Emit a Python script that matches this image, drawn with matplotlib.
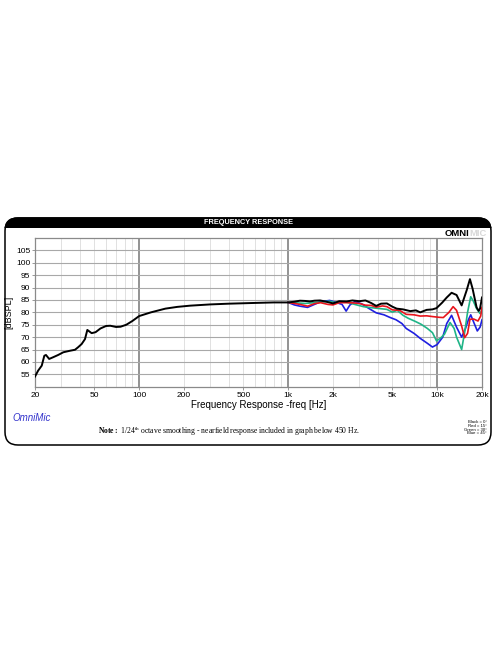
import matplotlib
matplotlib.use("Agg")
import matplotlib.pyplot as plt
from matplotlib.patches import FancyBboxPatch, Rectangle
from matplotlib.ticker import FixedLocator, NullFormatter

plt.rcParams['font.family'] = ['Liberation Sans', 'DejaVu Sans']
plt.rcParams['mathtext.fontset'] = 'custom'
plt.rcParams['mathtext.rm'] = 'Liberation Serif'
plt.rcParams['mathtext.bf'] = 'Liberation Serif:bold'

# Black = 0 deg (includes nearfield below 450 Hz)
black_f = [20, 21.0, 22.2, 23.1, 23.7, 24.9, 26.5, 28.6, 31.0, 34.3, 37.1, 38.9, 41.1, 43.3, 44.9,
           48, 51, 55, 60, 64, 70, 75, 82, 90, 100, 120, 150, 180, 220, 300, 400, 600, 800,
           1000, 1100, 1200, 1300, 1400, 1500, 1640, 1800, 2000, 2200, 2470, 2700, 3000, 3300,
           3600, 3900, 4200, 4600, 5000, 5350, 5900, 6600, 7200, 7700, 8500, 9300, 9900, 10800,
           11600, 12500, 13500, 14600, 15800, 16600, 17300, 18400, 19000, 19400, 20000]
black_db = [54.1, 56.5, 58.5, 62.5, 62.8, 61.2, 61.9, 62.8, 63.9, 64.5, 64.9, 65.9, 67.2, 69.2, 72.9,
            71.6, 72.0, 73.5, 74.5, 74.6, 74.1, 74.2, 75.0, 76.5, 78.5, 80.0, 81.5, 82.2, 82.7, 83.2,
            83.5, 83.8, 84.0,
            84.0, 84.3, 84.7, 84.6, 84.4, 84.7, 84.8, 84.3, 83.6, 84.5, 84.4, 84.8, 84.5, 84.8,
            83.8, 82.6, 83.5, 83.6, 82.3, 81.5, 81.2, 80.5, 80.8, 80.0, 81.0, 81.2, 81.7, 83.9,
            86.0, 87.9, 87.0, 82.8, 89.0, 93.4, 89.5, 82.0, 80.6, 81.5, 86.0]

# Red = 15 deg
red_f = [1000, 1100, 1200, 1350, 1500, 1650, 1850, 2000, 2200, 2600, 3000, 3300, 3600, 3900,
         4300, 4600, 5000, 5600, 6200, 7000, 7700, 8500, 9300, 10300, 11000, 12000, 12800, 13500,
         14600, 15300, 16000, 16600, 17600, 18800, 19600, 20000]
red_db = [84.0, 83.6, 83.2, 82.5, 83.5, 83.9, 83.2, 83.0, 83.9, 83.9, 83.6, 82.9, 82.8, 82.1,
          82.6, 82.3, 81.0, 80.8, 79.2, 79.0, 78.5, 78.6, 78.3, 78.0, 77.9, 80.0, 82.3, 80.8,
          74.5, 69.8, 71.5, 77.2, 77.3, 76.5, 78.5, 82.0]

# Green = 30 deg
green_f = [1000, 1150, 1300, 1500, 1700, 1900, 2100, 2400, 2800, 3200, 3600, 4000, 4600, 5000,
           5400, 5900, 6400, 7100, 7800, 8600, 9300, 9900, 10500, 11200, 12200, 13000, 13500,
           14600, 15300, 16000, 16800, 17500, 18400, 19400, 20000]
green_db = [84.0, 83.8, 83.6, 83.9, 84.2, 84.5, 83.8, 84.3, 83.2, 82.3, 81.9, 81.6, 81.2, 80.1,
            80.8, 78.8, 77.6, 76.4, 75.2, 73.5, 71.8, 68.5, 69.5, 71.2, 75.9, 73.5, 70.0,
            65.0, 72.0, 80.0, 86.3, 84.5, 81.5, 79.5, 81.0]

# Blue = 45 deg
blue_f = [1000, 1100, 1200, 1350, 1500, 1650, 1900, 2100, 2300, 2450, 2600, 2800, 3100, 3500,
          3900, 4400, 4800, 5300, 5800, 6200, 7000, 7700, 8600, 9300, 10000, 10900, 11600, 12500,
          13500, 14600, 15500, 16200, 16800, 17600, 18600, 19400, 20000]
blue_db = [84.0, 83.0, 82.5, 82.0, 83.2, 84.3, 84.8, 84.0, 83.2, 80.5, 83.0, 84.3, 83.5, 81.5,
           79.8, 79.0, 78.0, 77.0, 75.5, 73.5, 71.5, 69.5, 67.5, 66.0, 67.0, 70.0, 75.5, 78.8,
           74.0, 70.0, 73.5, 77.0, 79.0, 76.0, 72.5, 74.0, 77.0]

x_ticks = [20, 50, 100, 200, 500, 1000, 2000, 5000, 10000, 20000]
x_labels = ['20', '50', '100', '200', '500', '1k', '2k', '5k', '10k', '20k']
y_ticks = [55, 60, 65, 70, 75, 80, 85, 90, 95, 100, 105]

fig = plt.figure(figsize=(4.96, 6.64), dpi=100)
inch = fig.dpi_scale_trans

# outer frame and black title bar (behind the axes)
frame = FancyBboxPatch((0.05, 2.19), 4.86, 2.27, boxstyle="round,pad=0,rounding_size=0.13",
                       transform=inch, facecolor='white', edgecolor='black', lw=1.1, zorder=-10)
fig.patches.append(frame)
bar = FancyBboxPatch((0.05, 2.19), 4.86, 2.27, boxstyle="round,pad=0,rounding_size=0.13",
                     transform=inch, facecolor='black', edgecolor='black', lw=1.1, zorder=-9)
bar.set_clip_path(Rectangle((0.0, 4.365), 4.96, 0.2, transform=inch))
fig.patches.append(bar)
fig.text(2.48, 4.41, 'FREQUENCY RESPONSE', transform=inch, color='white', fontsize=5.3,
         fontweight='bold', ha='center', va='center')
fig.text(4.69, 4.31, 'OMNI', transform=inch, color='black', fontsize=6.8, fontweight='bold',
         ha='right', va='center')
fig.text(4.69, 4.31, 'MIC', transform=inch, color='#d8d8d8', fontsize=6.8, fontweight='bold',
         ha='left', va='center')

ax = fig.add_axes([35 / 496, 277.3 / 664, 447 / 496, 148.7 / 664])
ax.set_xscale('log')
ax.set_xlim(20, 20000)
ax.set_ylim(50, 110)

minor = [m * d for d in (10, 100, 1000) for m in range(2, 10)]
for f in minor:
    if 20 < f < 20000:
        ax.axvline(f, color='#dcdcdc', lw=0.6, zorder=0)
for f in (100, 1000, 10000):
    ax.axvline(f, color='#8a8a8a', lw=1.3, zorder=1)
for y in y_ticks:
    ax.axhline(y, color='#a8a8a8', lw=0.8, zorder=1)

ax.plot(blue_f, blue_db, color='#1f1fe0', lw=1.2, zorder=3)
ax.plot(green_f, green_db, color='#1fb487', lw=1.2, zorder=4)
ax.plot(red_f, red_db, color='#e8141c', lw=1.2, zorder=5)
ax.plot(black_f, black_db, color='black', lw=1.4, zorder=6)

ax.xaxis.set_major_locator(FixedLocator(x_ticks))
ax.xaxis.set_minor_formatter(NullFormatter())
ax.xaxis.set_minor_locator(FixedLocator([]))
ax.set_xticklabels(x_labels)
ax.set_yticks(y_ticks)
ax.tick_params(axis='both', labelsize=6, length=2, width=0.6, color='#888888', pad=1.5)
for s in ax.spines.values():
    s.set_color('#8a8a8a')
    s.set_linewidth(0.9)
ax.set_ylabel('[dBSPL]', fontsize=6.5, labelpad=2)
ax.set_xlabel('Frequency Response -freq [Hz]', fontsize=7, labelpad=1)

fig.text(0.12, 2.46, 'OmniMic', transform=inch, color='#3333cc', fontsize=7, style='italic',
         ha='left', va='center')
fig.text(2.29, 2.33, r'$\mathbf{Note{:}}$ 1/24$^{\mathrm{th}}$ octave smoothing - nearfield response included in graph below 450 Hz.',
         transform=inch, fontsize=5.5, family='Liberation Serif', ha='center', va='center')
legend_lines = ['Black = 0\u00b0', 'Red = 15\u00b0', 'Green = 30\u00b0', 'Blue = 45\u00b0']
for i, t in enumerate(legend_lines):
    fig.text(4.87, 2.42 - i * 0.038, t, transform=inch, fontsize=3.1, ha='right', va='center')

fig.savefig('out.png', dpi=100)
